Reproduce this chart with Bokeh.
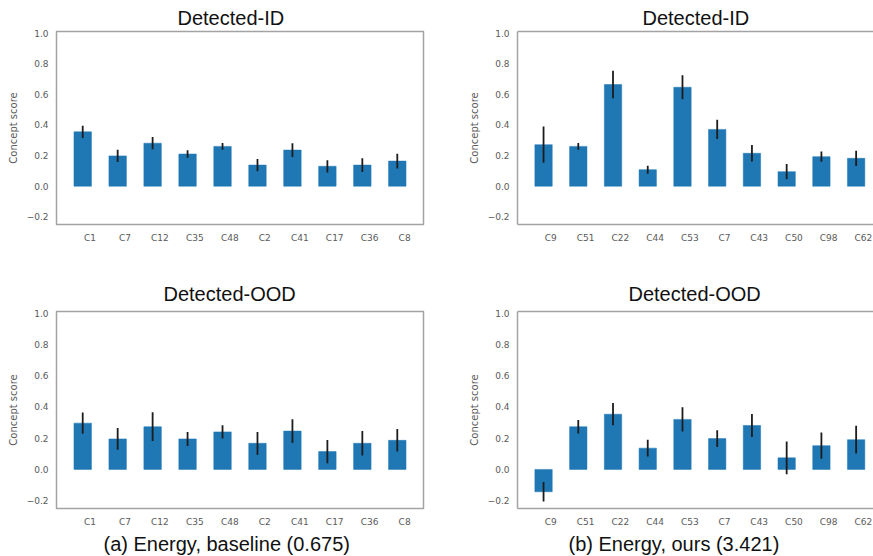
from bokeh.plotting import figure
from bokeh.layouts import column, row
from bokeh.models import FixedTicker, LinearAxis, Title, Range1d, ColumnDataSource
from bokeh.embed import file_html
from bokeh.resources import INLINE

# ---------------- data ----------------
cats_a = ["C1", "C7", "C12", "C35", "C48", "C2", "C41", "C17", "C36", "C8"]
id_a_vals = [0.355, 0.198, 0.281, 0.210, 0.260, 0.138, 0.236, 0.130, 0.138, 0.164]
id_a_errs = [0.040, 0.040, 0.040, 0.024, 0.022, 0.040, 0.045, 0.040, 0.045, 0.048]
ood_a_vals = [0.296, 0.195, 0.273, 0.195, 0.240, 0.167, 0.245, 0.114, 0.167, 0.186]
ood_a_errs = [0.068, 0.070, 0.092, 0.045, 0.043, 0.073, 0.076, 0.074, 0.078, 0.072]

cats_b = ["C9", "C51", "C22", "C44", "C53", "C7", "C43", "C50", "C98", "C62"]
id_b_vals = [0.271, 0.260, 0.664, 0.108, 0.646, 0.371, 0.215, 0.095, 0.193, 0.182]
id_b_errs = [0.118, 0.022, 0.089, 0.026, 0.078, 0.063, 0.054, 0.050, 0.033, 0.050]
ood_b_vals = [-0.143, 0.273, 0.353, 0.136, 0.320, 0.197, 0.281, 0.074, 0.152, 0.190]
ood_b_errs = [0.062, 0.043, 0.071, 0.054, 0.078, 0.054, 0.074, 0.105, 0.084, 0.089]

y_ticks = [-0.2, 0.0, 0.2, 0.4, 0.6, 0.8, 1.0]
y_tick_labels = ["\u22120.2", "0.0", "0.2", "0.4", "0.6", "0.8", "1.0"]

titles = ["Detected-ID", "Detected-OOD"]
captions = ["(a) Energy, baseline (0.675)", "(b) Energy, ours (3.421)"]

BAR = "#1f77b4"
FRAME = "#a3a3a3"
TICK_COL = "#5a5a5a"
LABEL_SHIFT = 0.21  # x tick labels sit a little right of the bar centres


def panel(cats, vals, errs, title, width, height, ml, mr, mt, mb, x_end,
          open_right, title_off, title_standoff, caption=None, cap_off=0):
    xs = list(range(len(cats)))
    lo = [v - e for v, e in zip(vals, errs)]
    hi = [v + e for v, e in zip(vals, errs)]
    src = ColumnDataSource(dict(x=xs, top=vals, lo=lo, hi=hi))
    p = figure(width=width, height=height, output_backend="svg", toolbar_location=None,
               x_range=Range1d(-0.75, x_end), y_range=Range1d(-0.25, 1.01),
               min_border_left=ml, min_border_right=mr, min_border_top=mt,
               min_border_bottom=mb, background_fill_color="white",
               border_fill_color="white")
    p.title = Title(text=title, align="left", offset=title_off,
                    standoff=title_standoff, text_font="Liberation Sans",
                    text_font_size="20px", text_font_style="normal",
                    text_color="#111111")
    p.vbar(x="x", top="top", bottom=0, width=0.5, source=src,
           fill_color=BAR, line_color=BAR, line_width=0.5)
    p.segment(x0="x", y0="lo", x1="x", y1="hi", source=src,
              line_color="#1c1c1c", line_width=1.8)

    p.xgrid.visible = False
    p.ygrid.visible = False

    # x axis
    tick_pos = [x + LABEL_SHIFT for x in xs]
    xa = p.xaxis[0]
    xa.ticker = FixedTicker(ticks=tick_pos)
    xa.major_label_overrides = {t: c for t, c in zip(tick_pos, cats)}
    xa.major_tick_line_color = None
    xa.minor_tick_line_color = None
    xa.major_tick_out = 0
    xa.minor_tick_out = 0
    xa.major_label_text_font = "DejaVu Sans"
    xa.major_label_text_font_size = "9px"
    xa.major_label_text_color = TICK_COL
    xa.major_label_standoff = 8

    # y axis
    ya = p.yaxis[0]
    ya.ticker = FixedTicker(ticks=y_ticks)
    ya.major_label_overrides = {t: s for t, s in zip(y_ticks, y_tick_labels)}
    ya.major_tick_line_color = None
    ya.minor_tick_line_color = None
    ya.major_tick_out = 0
    ya.minor_tick_out = 0
    ya.major_label_text_font = "DejaVu Sans"
    ya.major_label_text_font_size = "9px"
    ya.major_label_text_color = TICK_COL
    ya.major_label_standoff = 8
    ya.axis_label = "Concept score"
    ya.axis_label_text_font = "DejaVu Sans"
    ya.axis_label_text_font_size = "10px"
    ya.axis_label_text_font_style = "normal"
    ya.axis_label_text_color = TICK_COL
    ya.axis_label_standoff = 5

    if open_right:
        p.outline_line_color = None
        xa.axis_line_color = FRAME
        xa.axis_line_width = 1.5
        ya.axis_line_color = FRAME
        ya.axis_line_width = 1.5
        top_ax = LinearAxis(ticker=FixedTicker(ticks=[]), axis_line_color=FRAME,
                            axis_line_width=1.5, major_tick_line_color=None,
                            minor_tick_line_color=None, major_tick_out=0,
                            minor_tick_out=0, major_label_standoff=0,
                            major_label_text_font_size="0px")
        p.add_layout(top_ax, "above")
    else:
        p.outline_line_color = FRAME
        p.outline_line_width = 1.5
        xa.axis_line_color = None
        ya.axis_line_color = None

    if caption:
        p.add_layout(Title(text=caption, align="left", offset=cap_off, standoff=2,
                           text_font="Liberation Sans", text_font_size="20px",
                           text_font_style="normal", text_color="#111111"),
                     "below")
    return p


tl = panel(cats_a, id_a_vals, id_a_errs, titles[0], 440, 262, 56, 17, 31, 38, 9.75,
           False, 121, 6)
tr = panel(cats_b, id_b_vals, id_b_errs, titles[0], 433, 262, 77, 0, 31, 38, 9.5,
           True, 125, 6)
bl = panel(cats_a, ood_a_vals, ood_a_errs, titles[1], 440, 294, 56, 17, 49, 48, 9.75,
           False, 107, 14, captions[0], 47)
br = panel(cats_b, ood_b_vals, ood_b_errs, titles[1], 433, 294, 77, 0, 49, 48, 9.5,
           True, 111, 14, captions[1], 51)

layout = column(row(tl, tr, spacing=0), row(bl, br, spacing=0), spacing=0)

open("out.html", "w").write(file_html(layout, INLINE))
